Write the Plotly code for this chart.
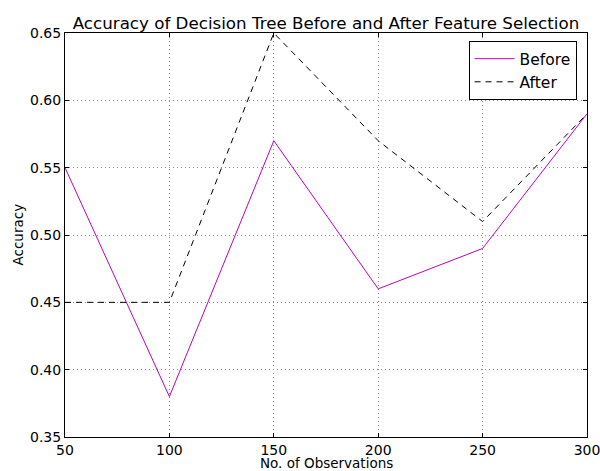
import plotly.graph_objects as go

observations = [50, 100, 150, 200, 250, 300]
before = [0.55, 0.38, 0.57, 0.46, 0.49, 0.59]
after = [0.45, 0.45, 0.65, 0.57, 0.51, 0.59]
x_ticks = [50, 100, 150, 200, 250, 300]
y_ticks = [0.35, 0.40, 0.45, 0.50, 0.55, 0.60, 0.65]

fig = go.Figure()
fig.add_trace(go.Scatter(x=observations, y=before, mode="lines", name="Before",
                         line=dict(color="#bf00bf", width=1)))
fig.add_trace(go.Scatter(x=observations, y=after, mode="lines", name="After",
                         line=dict(color="black", width=1, dash="6px,5px")))

font = "DejaVu Sans, sans-serif"
axis_common = dict(
    showline=True, linecolor="black", linewidth=1, mirror="ticks",
    ticks="inside", ticklen=4, tickcolor="black",
    showgrid=True, gridcolor="#8c8c8c", griddash="1px,3px", gridwidth=1,
    zeroline=False, tickfont=dict(family=font, size=14, color="black"),
    automargin=False, ticklabeloverflow="allow",
)
fig.update_xaxes(range=[50, 300], tickvals=x_ticks, ticktext=[str(v) for v in x_ticks], **axis_common)
fig.update_yaxes(range=[0.35, 0.65], tickvals=y_ticks, ticktext=[f"{v:.2f}" for v in y_ticks], **axis_common)

fig.add_annotation(text="No. of Observations", xref="paper", yref="paper", x=0.5, y=0,
                   xanchor="center", yanchor="top", yshift=-16, showarrow=False,
                   font=dict(family=font, size=13.5, color="black"))
fig.add_annotation(text="Accuracy", xref="paper", yref="paper", x=0, y=0.5,
                   xanchor="center", yanchor="middle", xshift=-47.5, textangle=-90, showarrow=False,
                   font=dict(family=font, size=13.5, color="black"))

fig.update_layout(
    width=600, height=471,
    margin=dict(l=65, r=13, t=33, b=34, autoexpand=False),
    plot_bgcolor="white", paper_bgcolor="white",
    title=dict(text="Accuracy of Decision Tree Before and After Feature Selection",
               font=dict(family=font, size=16.7, color="black"),
               x=0.5, xref="paper", xanchor="center", y=1, yref="paper", yanchor="bottom",
               pad=dict(b=4), automargin=False),
    legend=dict(x=0.98, y=0.98, xanchor="right", yanchor="top",
                bordercolor="black", borderwidth=1, bgcolor="white",
                font=dict(family=font, size=15.5, color="black"),
                itemwidth=40, tracegroupgap=0),
    showlegend=True,
)
fig.write_html("out.html", config={"displayModeBar": False},
               post_script="document.body.style.margin='0';document.body.style.overflow='hidden';")
